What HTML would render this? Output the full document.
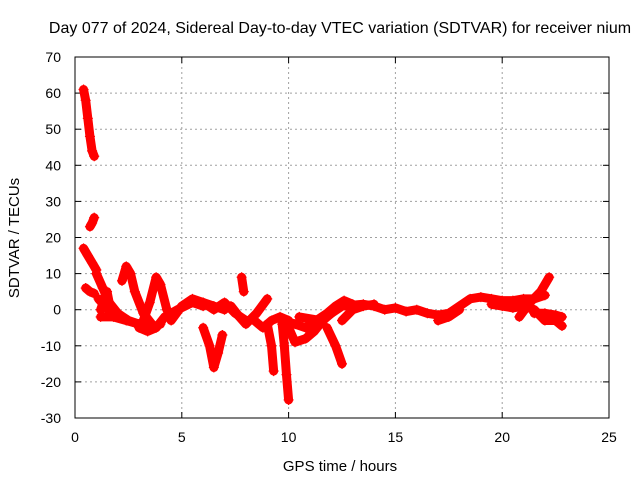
<!DOCTYPE html>
<html><head><meta charset="utf-8"><style>
body{margin:0;background:#fff;}
svg{display:block;font-family:"Liberation Sans",sans-serif;}
</style></head><body>
<svg id="chart" width="640" height="480" xmlns="http://www.w3.org/2000/svg">
<text x="340" y="33" font-size="16" text-anchor="middle">Day 077 of 2024, Sidereal Day-to-day VTEC variation (SDTVAR) for receiver nium</text>
<text x="340" y="471" font-size="15" text-anchor="middle">GPS time / hours</text>
<text transform="translate(19,238) rotate(-90)" font-size="15" text-anchor="middle">SDTVAR / TECUs</text>
<g id="grid"></g><g id="marks"></g>
<rect x="75" y="57" width="534" height="361" fill="none" stroke="#000" stroke-width="1"/>
</svg>
<script>
const xTicks=[0,5,10,15,20,25];
const yTicks=[-30,-20,-10,0,10,20,30,40,50,60,70];
const t1=[[0.4,61],[0.5,58],[0.6,53],[0.7,48],[0.8,44],[0.9,42.5]];
const t2=[[0.7,23],[0.8,24],[0.9,25.5]];
const t3=[[0.4,17],[0.6,15],[0.8,13],[1.0,11]];
const t4=[[0.5,6],[0.7,5],[0.9,4.5]];
const t5=[[1.0,10],[1.3,6],[1.6,2],[2.0,-1],[2.5,-3],[3.0,-4],[3.5,-5]];
const t6=[[1.1,3],[1.4,1],[1.7,-1],[1.5,5],[1.2,0]];
const t7=[[2.2,8],[2.4,12],[2.6,10],[2.8,5],[3.2,-1],[3.6,-4]];
const t8=[[1.2,-2],[1.8,-2],[2.4,-3],[3.0,-4],[3.6,-5],[4.0,-4]];
const t9=[[3.2,-3],[3.5,2],[3.8,9],[4.0,7],[4.3,0],[4.6,-2]];
const t10=[[3.0,-5],[3.4,-6],[3.8,-5],[4.2,-2],[4.8,0],[5.5,2],[6.0,1]];
const t11=[[4.5,-3],[5.0,1],[5.5,3],[6.0,2],[6.5,1],[7.0,0]];
const t12=[[6.0,-5],[6.3,-10],[6.5,-16],[6.7,-12],[6.9,-7]];
const t13=[[6.0,2],[6.5,0],[7.0,2],[7.5,-1],[8.0,-3]];
const t14=[[7.3,1],[7.7,-2],[8.0,-4],[8.5,-1],[9.0,3]];
const t15=[[7.8,9],[7.9,5]];
const t16=[[8.4,-3],[8.8,-5],[9.2,-3],[9.6,-2],[10,-3]];
const t17=[[9.0,-4],[9.2,-10],[9.3,-17]];
const t18=[[9.7,-4],[9.8,-10],[9.9,-18],[10.0,-25]];
const t19=[[10.0,-5],[10.3,-9],[10.8,-8],[11.2,-6],[11.6,-3],[12.0,-1]];
const t20=[[9.8,-3],[10.3,-4],[10.8,-5],[11.3,-3],[11.8,-1],[12.2,1],[12.6,2.5],[13,1.5]];
const t21=[[11.8,-5],[12.2,-10],[12.5,-15]];
const t22=[[10.5,-2],[11.5,-3],[12.5,1],[13.5,1.5],[14,1],[14.5,0],[15,0.5],[15.5,-0.5],[16,0],[16.5,-1],[17,-1.5],[17.5,-1],[18,1],[18.5,3],[19,3.5],[19.5,3],[20,2.5],[20.5,2.5],[21,3],[21.5,3],[22,4]];
const t23=[[12.5,-3],[13,0],[13.5,1],[14,1.5]];
const t24=[[17,-3],[17.5,-2],[18,0]];
const t25=[[19.5,1.5],[20,1],[20.5,0.5],[21,1],[21.5,0],[22,-3],[22.5,-3],[22.8,-4.5]];
const t26=[[20.8,-2],[21.3,2],[21.8,5],[22.2,9]];
const t27=[[21.5,-1],[22,-1],[22.5,-1.5],[22.8,-2]];
const tracks=[t1,t2,t3,t4,t5,t6,t7,t8,t9,t10,t11,t12,t13,t14,t15,t16,t17,t18,t19,t20,t21,t22,t23,t24,t25,t26,t27];
const NS="http://www.w3.org/2000/svg";
const X0=75,X1=609,Y0=418,Y1=57;
function sx(v){return X0+(v-0)/(25-0)*(X1-X0);}
function sy(v){return Y0-(v+30)/(100)*(Y0-Y1);}
const grid=document.getElementById('grid'),marks=document.getElementById('marks');
function mk(tag,a,p){const e=document.createElementNS(NS,tag);for(const k in a)e.setAttribute(k,a[k]);p.appendChild(e);return e;}
xTicks.forEach(t=>{const x=sx(t);
 if(t>0&&t<25){const l=mk('line',{x1:x,x2:x,y1:Y1,y2:Y0,stroke:'#a0a0a0','stroke-dasharray':'2,3'},grid);}
 mk('line',{x1:x,x2:x,y1:Y0,y2:Y0-6,stroke:'#000'},grid);mk('line',{x1:x,x2:x,y1:Y1,y2:Y1+6,stroke:'#000'},grid);
 const tx=mk('text',{x:x,y:Y0+24,'font-size':14,'text-anchor':'middle'},grid);tx.textContent=t;
 });
yTicks.forEach(t=>{const y=sy(t);
 if(t>-30&&t<70){const l=mk('line',{x1:X0,x2:X1,y1:y,y2:y,stroke:'#a0a0a0','stroke-dasharray':'2,3'},grid);}
 mk('line',{x1:X0,x2:X0+6,y1:y,y2:y,stroke:'#000'},grid);mk('line',{x1:X1,x2:X1-6,y1:y,y2:y,stroke:'#000'},grid);
 const tx=mk('text',{x:X0-14,y:y+5,'font-size':14,'text-anchor':'end'},grid);tx.textContent=t;
 });
tracks.forEach((tr,i)=>{
 const g=mk('g',{},marks);
 
 
 mk('polyline',{points:tr.map(p=>sx(p[0])+','+sy(p[1])).join(' '),fill:'none',stroke:'#f00','stroke-width':9,'stroke-linejoin':'round','stroke-linecap':'round'},g);
 tr.forEach(p=>{const x=sx(p[0]),y=sy(p[1]);
  mk('path',{d:`M${x-5},${y}H${x+5}M${x},${y-5}V${y+5}`,stroke:'#f00','stroke-width':1.2},g);});
});
</script>
</body></html>
